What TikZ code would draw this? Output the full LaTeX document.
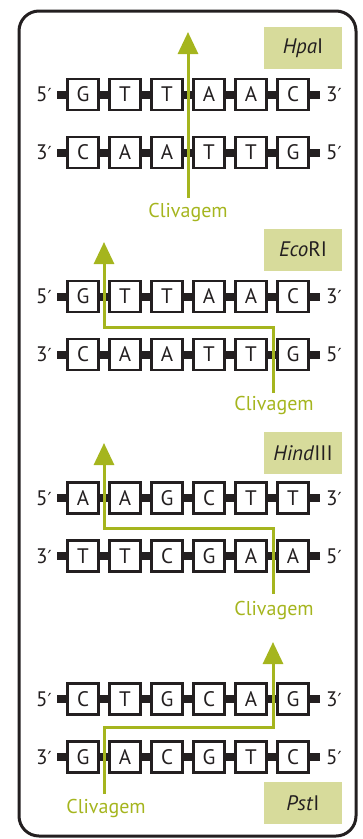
\documentclass[tikz,border=0pt]{standalone}
\usepackage{fontspec}
\setmainfont{PT Sans}
\newfontfamily\primefont{DejaVu Sans}
\usetikzlibrary{arrows.meta}

\definecolor{ink}{HTML}{231F20}
\definecolor{cutgreen}{HTML}{A5B51E}
\definecolor{tagfill}{HTML}{D7DB9B}

\newcommand{\fivep}{5{\primefont\fontsize{18}{18}\selectfont ′}}
\newcommand{\threep}{3{\primefont\fontsize{18}{18}\selectfont ′}}

\tikzset{
  base/.style={draw=ink,line width=2.2pt,fill=white,minimum size=31pt,inner sep=0pt,text=ink,font=\fontsize{21}{21}\selectfont},
  backbone/.style={draw=ink,line width=8pt},
  endtag/.style={inner sep=0pt,text=ink,font=\fontsize{21}{21}\selectfont},
  enzyme/.style={fill=tagfill,minimum width=78pt,minimum height=42pt,inner sep=0pt,text=ink,font=\fontsize{21}{21}\selectfont},
  cut/.style={draw=cutgreen,line width=3pt,-{Triangle[length=22pt,width=20pt]}},
  cuttext/.style={inner sep=0pt,text=cutgreen,font=\fontsize{20}{20}\selectfont}
}

% one strand: name, y, left end, right end, bases
\newcommand{\dnastrand}[5]{%
  \coordinate (#1-l) at (57,#2);
  \coordinate (#1-r) at (320,#2);
  \draw[backbone] (#1-l) -- (#1-r);
  \node[endtag] (#1-e1) at (44,#2) {#3};
  \node[endtag] (#1-e2) at (334,#2) {#4};
  \foreach \b [count=\i] in {#5}
    \node[base] (#1-\i) at ({41+42*\i},#2) {\b};
}

\begin{document}
\begin{tikzpicture}[x=1pt,y=-1pt]
    \useasboundingbox (0,0) rectangle (363,839);
    \draw[ink,line width=3pt,rounded corners=20pt] (19,11) rectangle (356,836);

    % HpaI
    \dnastrand{h1}{94.5}{\fivep}{\threep}{G,T,T,A,A,C}
    \dnastrand{h2}{152.5}{\threep}{\fivep}{C,A,A,T,T,G}
    \node[enzyme] (hpa) at (303,48) {\textit{Hpa}I};
    \node[cuttext] (hpa-cut) at (188,212) {Clivagem};
    \coordinate (hpa-s) at (188,198);
    \coordinate (hpa-t) at (188,32);
    \draw[cut] (hpa-s) -- (hpa-t);

    % EcoRI
    \dnastrand{e1}{296.5}{\fivep}{\threep}{G,T,T,A,A,C}
    \dnastrand{e2}{354.5}{\threep}{\fivep}{C,A,A,T,T,G}
    \node[enzyme] (eco) at (303,249.5) {\textit{Eco}RI};
    \node[cuttext] (eco-cut) at (274,405) {Clivagem};
    \coordinate (eco-s) at (273,393);
    \coordinate (eco-b) at (104,327);
    \coordinate (eco-t) at (104,242);
    \draw[cut] (eco-s) |- (eco-b) -- (eco-t);

    % HindIII
    \dnastrand{d1}{498}{\fivep}{\threep}{A,A,G,C,T,T}
    \dnastrand{d2}{556}{\threep}{\fivep}{T,T,C,G,A,A}
    \node[enzyme] (hind) at (303,453) {\textit{Hind}III};
    \node[cuttext] (hind-cut) at (274,610) {Clivagem};
    \coordinate (hind-s) at (273,594);
    \coordinate (hind-b) at (104,528);
    \coordinate (hind-t) at (104,443);
    \draw[cut] (hind-s) |- (hind-b) -- (hind-t);

    % PstI
    \dnastrand{p1}{699}{\fivep}{\threep}{C,T,G,C,A,G}
    \dnastrand{p2}{757}{\threep}{\fivep}{G,A,C,G,T,C}
    \node[enzyme] (pst) at (303,803) {\textit{Pst}I};
    \node[cuttext] (pst-cut) at (106,808) {Clivagem};
    \coordinate (pst-s) at (104,794);
    \coordinate (pst-b) at (273,727);
    \coordinate (pst-t) at (273,642);
    \draw[cut] (pst-s) |- (pst-b) -- (pst-t);
\end{tikzpicture}
\end{document}
